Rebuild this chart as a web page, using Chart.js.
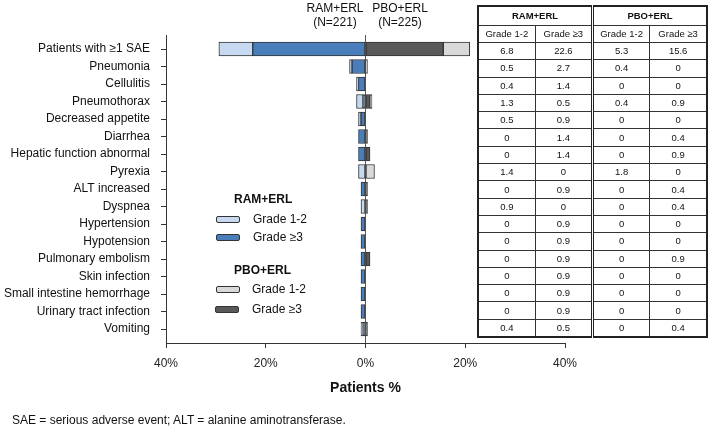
<!DOCTYPE html>
<html>
<head>
<meta charset="utf-8">
<script src="https://cdn.jsdelivr.net/npm/chart.js"></script>
<style>
  body { margin: 0; background: #fff; font-family: "Liberation Sans", Arial, sans-serif; color: #111; }
  #wrap { position: relative; width: 709px; height: 428px; overflow: hidden; }
  #chart { position: absolute; left: 0; top: 0; }
  .abs { position: absolute; white-space: nowrap; }
  .hdr { font-size: 12px; line-height: 14px; text-align: center; width: 80px; }
  .lgT { font-size: 12px; font-weight: bold; }
  .lgI { font-size: 12px; line-height: 14px; }
  .sw { position: absolute; width: 22px; height: 5px; border: 1px solid #333; border-radius: 2px; }
  #tbl { position: absolute; left: 477px; top: 5px; width: 231px; border-collapse: collapse;
         border: 2px solid #222; font-size: 9.5px; table-layout: fixed; }
  #tbl td, #tbl th { border: 1px solid #333; text-align: center; padding: 0; line-height: 10px; }
  #tbl th { font-weight: bold; height: 18px; }
  #tbl tr.sub td { height: 16px; }
  #tbl tr.row td { height: 16.3px; }
  #tbl .grp { border-left: 3px double #222; }
  #foot { left: 12px; top: 413px; font-size: 12px; }
</style>
</head>
<body>
<div id="wrap">
  <canvas id="chart" width="709" height="428"></canvas>
  <div class="abs hdr" style="left:295px;top:1px">RAM+ERL<br>(N=221)</div>
  <div class="abs hdr" style="left:360px;top:1px">PBO+ERL<br>(N=225)</div>

  <div class="abs lgT" style="left:234px;top:192px">RAM+ERL</div>
  <div class="sw" style="left:216px;top:216px;background:#c6d9f0"></div>
  <div class="abs lgI" style="left:253px;top:212px">Grade 1-2</div>
  <div class="sw" style="left:216px;top:234px;background:#4a7ebb"></div>
  <div class="abs lgI" style="left:253px;top:230px">Grade ≥3</div>

  <div class="abs lgT" style="left:234px;top:263px">PBO+ERL</div>
  <div class="sw" style="left:216px;top:286px;background:#d9d9d9"></div>
  <div class="abs lgI" style="left:252px;top:282px">Grade 1-2</div>
  <div class="sw" style="left:215px;top:306px;background:#595959"></div>
  <div class="abs lgI" style="left:252px;top:302px">Grade ≥3</div>

  <table id="tbl"></table>
  <div id="foot" class="abs">SAE = serious adverse event; ALT = alanine aminotransferase.</div>
</div>
<script>
// categories (top to bottom)
const events = ['Patients with ≥1 SAE', 'Pneumonia', 'Cellulitis', 'Pneumothorax', 'Decreased appetite',
  'Diarrhea', 'Hepatic function abnormal', 'Pyrexia', 'ALT increased', 'Dyspnea', 'Hypertension',
  'Hypotension', 'Pulmonary embolism', 'Skin infection', 'Small intestine hemorrhage',
  'Urinary tract infection', 'Vomiting'];

// % of patients
const ramGrade12 = [6.8, 0.5, 0.4, 1.3, 0.5, 0, 0, 1.4, 0, 0.9, 0, 0, 0, 0, 0, 0, 0.4];
const ramGrade3  = [22.6, 2.7, 1.4, 0.5, 0.9, 1.4, 1.4, 0, 0.9, 0, 0.9, 0.9, 0.9, 0.9, 0.9, 0.9, 0.5];
const pboGrade12 = [5.3, 0.4, 0, 0.4, 0, 0, 0, 1.8, 0, 0, 0, 0, 0, 0, 0, 0, 0];
const pboGrade3  = [15.6, 0, 0, 0.9, 0, 0.4, 0.9, 0, 0.4, 0.4, 0, 0, 0.9, 0, 0, 0, 0.4];

const gradeLabels = ['Grade 1-2', 'Grade ≥3'];
const xMin = -40, xMax = 40, xStep = 20;

const colRam12 = '#c6d9f0', colRam3 = '#4a7ebb', colPbo12 = '#d9d9d9', colPbo3 = '#595959';

// table on the right
const tbl = document.getElementById('tbl');
let html = '<tr><th colspan="2">RAM+ERL</th><th colspan="2" class="grp">PBO+ERL</th></tr>';
html += '<tr class="sub"><td>' + gradeLabels[0] + '</td><td>' + gradeLabels[1] +
  '</td><td class="grp">' + gradeLabels[0] + '</td><td>' + gradeLabels[1] + '</td></tr>';
events.forEach((e, i) => {
  html += '<tr class="row"><td>' + ramGrade12[i] + '</td><td>' + ramGrade3[i] +
    '</td><td class="grp">' + pboGrade12[i] + '</td><td>' + pboGrade3[i] + '</td></tr>';
});
tbl.innerHTML = html;

const neg = arr => arr.map(v => -v);
const barStyle = { borderColor: '#333', borderWidth: 1, borderSkipped: false, barThickness: 14 };

new Chart(document.getElementById('chart'), {
  type: 'bar',
  data: {
    labels: events,
    datasets: [
      { label: 'RAM+ERL Grade ≥3', data: neg(ramGrade3), backgroundColor: colRam3, ...barStyle },
      { label: 'RAM+ERL Grade 1-2', data: neg(ramGrade12), backgroundColor: colRam12, ...barStyle },
      { label: 'PBO+ERL Grade ≥3', data: pboGrade3, backgroundColor: colPbo3, ...barStyle },
      { label: 'PBO+ERL Grade 1-2', data: pboGrade12, backgroundColor: colPbo12, ...barStyle }
    ]
  },
  options: {
    indexAxis: 'y',
    responsive: false,
    animation: false,
    layout: { padding: { top: 35, right: 144, left: 0, bottom: 0 } },
    plugins: { legend: { display: false }, tooltip: { enabled: false } },
    scales: {
      x: {
        stacked: true,
        min: xMin, max: xMax,
        ticks: {
          stepSize: xStep,
          color: '#222',
          padding: 8,
          font: { family: 'Liberation Sans', size: 12 },
          callback: v => Math.abs(v) + '%'
        },
        grid: {
          color: ctx => (ctx.tick && ctx.tick.value === 0 ? '#555' : 'rgba(0,0,0,0)'),
          tickColor: '#333',
          tickLength: 5
        },
        border: { color: '#333', width: 1 },
        title: {
          display: true,
          text: 'Patients %',
          color: '#111',
          font: { family: 'Liberation Sans', size: 14, weight: 'bold' },
          padding: { top: 10, bottom: 31 }
        },
        afterFit: s => { s.height = 85; }
      },
      y: {
        stacked: true,
        ticks: {
          color: '#111',
          padding: 11,
          autoSkip: false,
          font: { family: 'Liberation Sans', size: 12 }
        },
        grid: { drawOnChartArea: false, offset: false, tickColor: '#333', tickLength: 5 },
        border: { color: '#333', width: 1 },
        afterFit: s => { s.width = 166; },
        // leave a little room above the first and below the last row
        afterBuildTicks: s => { s._startValue -= 0.3; s._valueRange += 0.6; }
      }
    }
  }
});
</script>
</body>
</html>
